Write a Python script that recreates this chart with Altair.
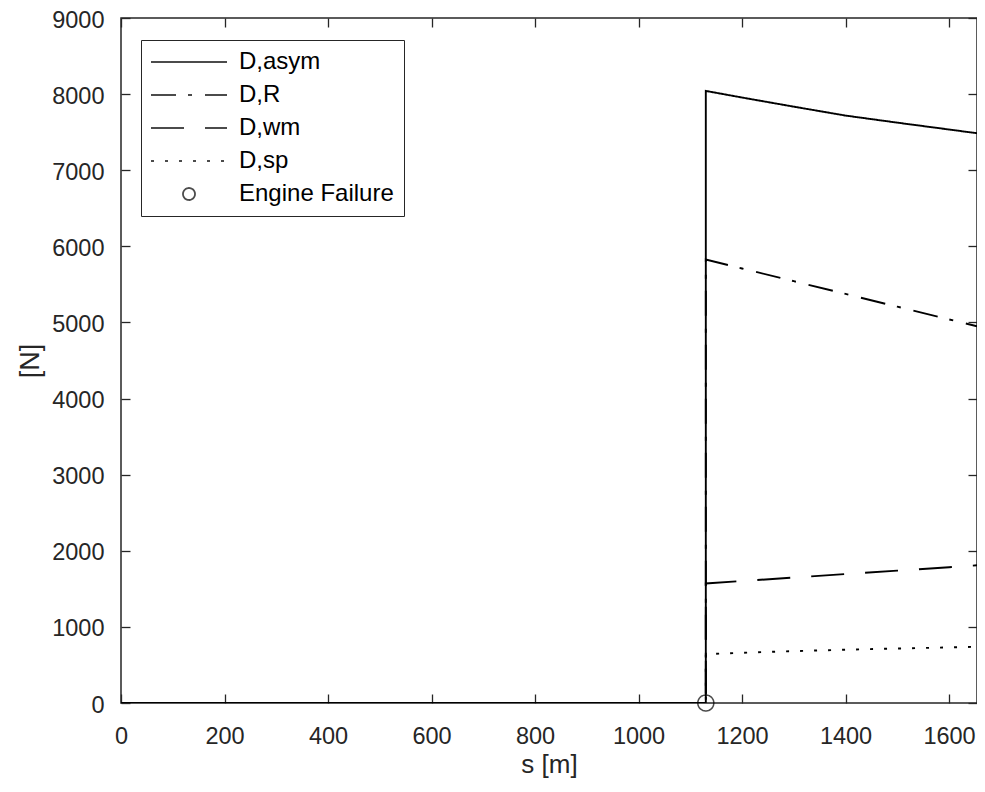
import altair as alt
import pandas as pd

# ---------------- data ----------------
series_names = ["D,asym", "D,R", "D,wm", "D,sp"]
failure_label = "Engine Failure"
legend_domain = series_names + [failure_label]

s_pre = [0, 1130]                      # all drags are zero before the failure
s_post = [1130, 1200, 1300, 1400, 1500, 1600, 1654]
d_asym = [8042, 7955, 7835, 7718, 7625, 7535, 7486]
d_r = [5826, 5709, 5542, 5375, 5207, 5040, 4950]
d_wm = [1571, 1603, 1648, 1694, 1739, 1784, 1809]
d_sp = [642, 660, 682, 700, 716, 730, 739]

failure_s = [1130]
failure_v = [0]

x_ticks = [0, 200, 400, 600, 800, 1000, 1200, 1400, 1600]
y_ticks = [0, 1000, 2000, 3000, 4000, 5000, 6000, 7000, 8000, 9000]

# ---------------- table ----------------
rows = []
for name, post in zip(series_names, [d_asym, d_r, d_wm, d_sp]):
    i = 0
    for s in s_pre:
        rows.append({"s": s, "v": 0, "series": name, "i": i})
        i += 1
    for s, v in zip(s_post, post):
        rows.append({"s": s, "v": v, "series": name, "i": i})
        i += 1
df = pd.DataFrame(rows)
df_fail = pd.DataFrame({"s": failure_s, "v": failure_v, "series": [failure_label]})

# ---------------- styles ----------------
FONT = "Liberation Sans"
TXT = "#262626"
dash_range = [[1, 0], [25, 12, 4, 13], [33, 21], [3, 11], [1, 0]]
line_path = "M-4.75,0H4.75"
circle_path = "M0.75,0A0.75,0.75,0,1,1,-0.75,0A0.75,0.75,0,1,1,0.75,0Z"
shape_range = [line_path, line_path, line_path, line_path, circle_path]

x_scale = alt.Scale(domain=[0, 1654], nice=False, zero=False)
y_scale = alt.Scale(domain=[0, 9000], nice=False)

legend = alt.Legend(
    title=None, orient="none", legendX=20, legendY=22,
    labelFont=FONT, labelFontSize=24, labelColor="black",
    symbolSize=256, symbolStrokeWidth=1.8, symbolStrokeColor="black",
    symbolFillColor="transparent",
    symbolOffset=26, labelOffset=38, rowPadding=9, padding=10,
    strokeColor=TXT, fillColor="white",
)

dash_enc = alt.StrokeDash("series:N", scale=alt.Scale(domain=legend_domain, range=dash_range), legend=legend)
shape_enc = alt.Shape("series:N", scale=alt.Scale(domain=legend_domain, range=shape_range), legend=legend)

tick_common = dict(tickSize=9, offset=-9, tickColor=TXT, tickWidth=1.3, domain=False, grid=False)

bottom_axis = alt.Axis(orient="bottom", values=x_ticks, format="d", labelFont=FONT, labelFontSize=23.5,
                       labelColor=TXT, labelPadding=21, labelFlush=False, labelOverlap=False,
                       title="s [m]", titleFont=FONT, titleFontSize=26, titleColor=TXT,
                       titleFontWeight="normal", titleBaseline="alphabetic", titleY=78,
                       **tick_common)
left_axis = alt.Axis(orient="left", values=y_ticks, format="d", labelFont=FONT, labelFontSize=23.5,
                     labelColor=TXT, labelPadding=17, labelOffset=2, labelFlush=False, labelOverlap=False,
                     title="[N]", titleFont=FONT, titleFontSize=27, titleColor=TXT,
                     titleFontWeight="normal", titleBaseline="alphabetic", titleX=-92,
                     **tick_common)
top_axis = alt.Axis(orient="top", values=x_ticks, labels=False, title=None, **tick_common)
right_axis = alt.Axis(orient="right", values=y_ticks, labels=False, title=None, **tick_common)

lines = alt.Chart(df).mark_line(color="black", strokeWidth=1.9, clip=True).encode(
    x=alt.X("s:Q", scale=x_scale, axis=bottom_axis),
    y=alt.Y("v:Q", scale=y_scale, axis=left_axis),
    strokeDash=dash_enc,
    order=alt.Order("i:Q"),
)

point = alt.Chart(df_fail).mark_point(filled=False, color="black", size=455, strokeWidth=1.5).encode(
    x=alt.X("s:Q", scale=x_scale, axis=top_axis),
    y=alt.Y("v:Q", scale=y_scale, axis=right_axis),
    shape=shape_enc,
    strokeDash=dash_enc,
)

chart = alt.layer(lines, point).resolve_axis(x="independent", y="independent").properties(
    width=856, height=685,
    autosize=alt.AutoSizeParams(type="none"),
    padding={"left": 113, "top": 10, "right": 0, "bottom": 75},
    background="white",
).configure_view(stroke=TXT, strokeWidth=1.5)

chart.save("out.html", embed_options={"renderer": "svg", "actions": False})
